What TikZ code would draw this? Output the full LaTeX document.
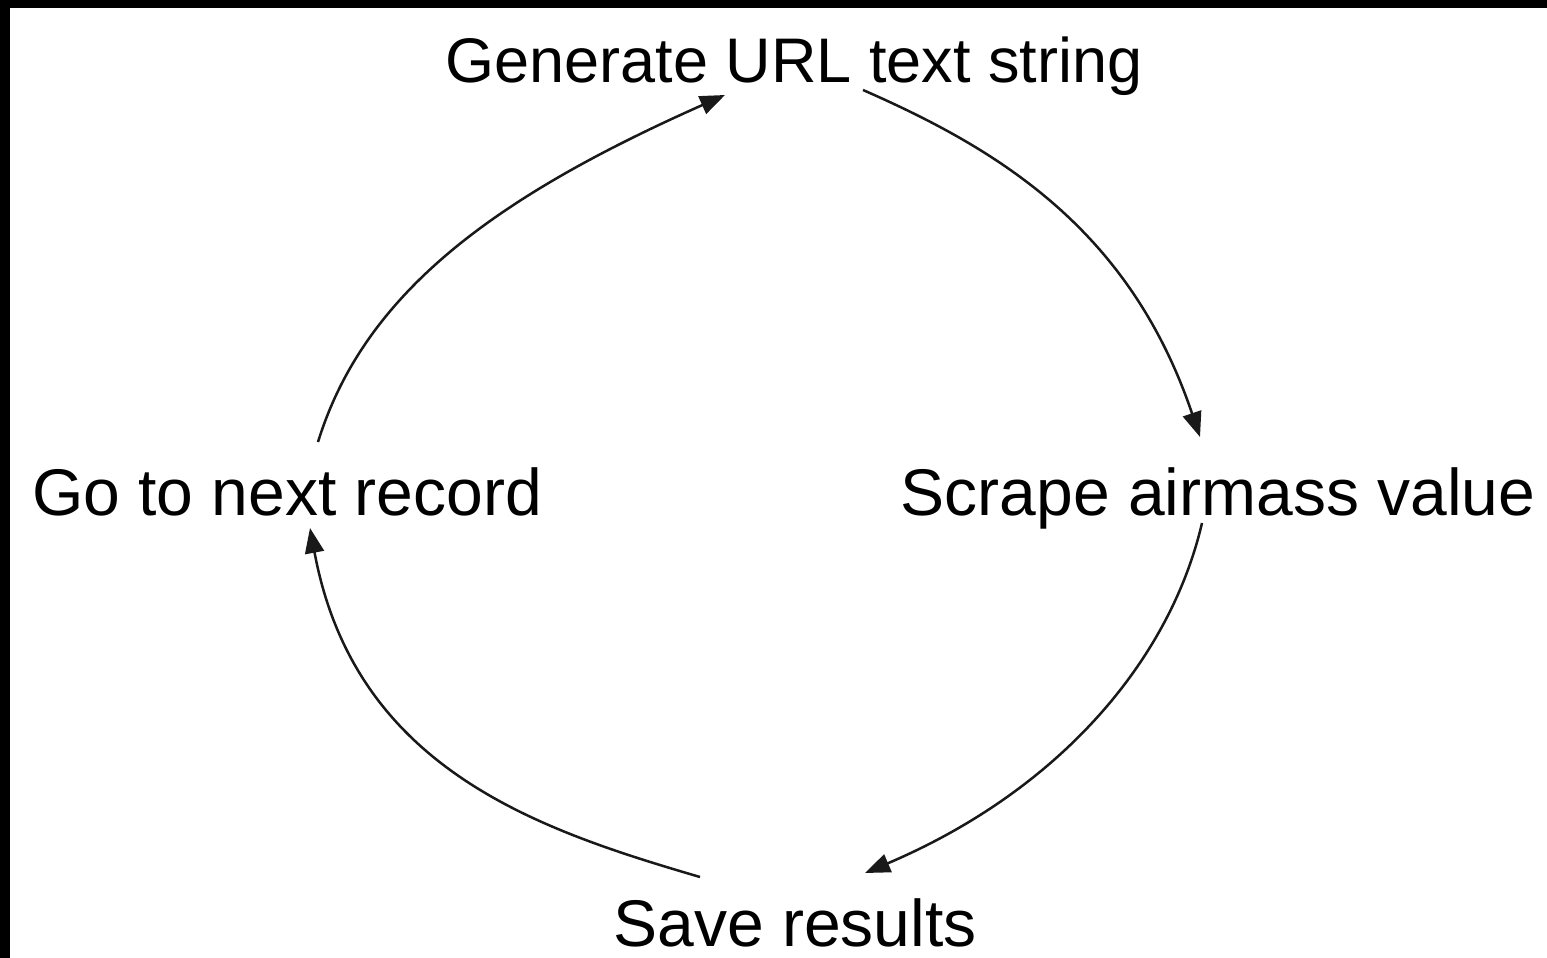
\documentclass[tikz,border=0pt]{standalone}
\usepackage{fontspec}
\setmainfont{Liberation Sans}
\usetikzlibrary{arrows.meta}
\tikzset{
  label/.style={inner sep=0pt, anchor=base, font=\fontsize{66}{72}\selectfont},
  toplabel/.style={label, font=\fontsize{63}{70}\selectfont},
  flow/.style={line width=2.5pt, draw=black!90, -{Triangle[length=25pt,width=19pt]}}
}
\begin{document}
\begin{tikzpicture}[x=1pt,y=-1pt]
\useasboundingbox (0,0) rectangle (1547,958);
\fill[white] (0,0) rectangle (1547,958);
\fill[black] (0,0) rectangle (1547,8);
\fill[black] (0,0) rectangle (10,958);

\node[toplabel] (gen) at (794,82) {Generate URL text string};
\node[label] (next) at (287,515) {Go to next record};
\node[label] (scrape) at (1218,515) {Scrape airmass value};
\node[label] (save) at (795,946) {Save results};

\coordinate (next-out) at (318,442);
\coordinate (gen-in) at (725,95);
\coordinate (gen-out) at (863,90);
\coordinate (scrape-in) at (1200,437);
\coordinate (scrape-out) at (1202,523);
\coordinate (save-in) at (865,873);
\coordinate (save-out) at (700,877);
\coordinate (next-in) at (310,528);

\draw[flow] (next-out) .. controls (365,290) and (500,195) .. (gen-in);
\draw[flow] (gen-out) .. controls (1000,150) and (1130,230) .. (scrape-in);
\draw[flow] (scrape-out) .. controls (1170,660) and (1060,790) .. (save-in);
\draw[flow] (save-out) .. controls (540,830) and (355,770) .. (next-in);
\end{tikzpicture}
\end{document}
